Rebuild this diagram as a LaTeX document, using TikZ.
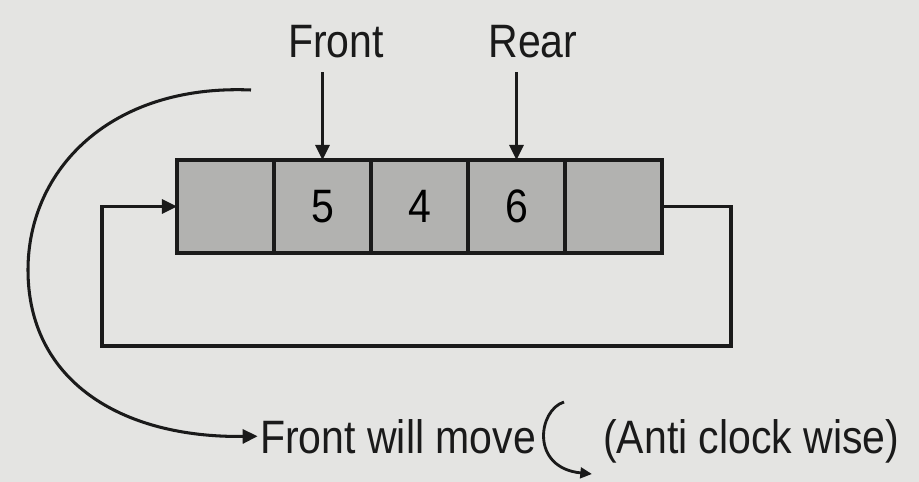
\documentclass[tikz,border=0pt]{standalone}
\usepackage{fontspec}
\setmainfont{Liberation Sans}[FakeStretch=0.875]
\usepackage{tikz}
\usetikzlibrary{
    arrows.meta,
    positioning
}
\definecolor{paper}{HTML}{E4E4E2}
\definecolor{cellgray}{HTML}{B2B2B0}
\definecolor{ink}{HTML}{1A1A1A}

\begin{document}
\begin{tikzpicture}[x=0.03cm,y=-0.03cm,
    cell/.style={draw=ink, fill=cellgray, line width=2.8pt, inner sep=0pt,
        outer sep=0pt, minimum width=2.91cm, minimum height=2.79cm,
        font=\fontsize{40}{44}\selectfont},
    lbl/.style={inner sep=0pt, text=ink, font=\fontsize{40}{44}\selectfont},
    arr/.style={draw=ink, line width=2.6pt,
        -{Triangle[length=0.45cm,width=0.42cm]}}
]

% Paper background
\useasboundingbox (0,0) rectangle (919,482);
\fill[paper] (0,0) rectangle (919,482);

% Queue cells
\node[cell] (c1) at (225.5,206.5) {};
\node[cell, right=0pt of c1] (c2) {5};
\node[cell, right=0pt of c2] (c3) {4};
\node[cell, right=0pt of c3] (c4) {6};
\node[cell, right=0pt of c4] (c5) {};

% Front and rear pointers
\node[lbl, anchor=base] (front) at (336,58) {Front};
\node[lbl, anchor=base] (rear) at (533,58) {Rear};
\draw[arr, shorten <=0.4cm] (front.south -| c2.north) -- (c2.north);
\draw[arr, shorten <=0.4cm] (rear.south -| c4.north) -- (c4.north);

% Wrap-around link from last cell back to first
\coordinate (loopR) at (731,346);
\coordinate (loopL) at (102,206.5);
\draw[arr] (c5.east) -| (loopR) -| (loopL) -- (c1.west);

% Caption with the big turning arrow
\node[lbl, anchor=base west] (move) at (260,453) {Front will move};
\node[lbl, anchor=base west] (dir) at (603,453) {(Anti clock wise)};
\coordinate (arcstart) at (251,90);
\draw[arr] (arcstart) .. controls (110,84) and (28,170) .. (28,270)
    .. controls (28,380) and (120,438) .. ([xshift=-2pt]move.west);

% Small anti clockwise sign
\coordinate (turn) at (564,402);
\coordinate (turnend) at (592,474);
\draw[draw=ink, line width=2.4pt, -{Triangle[length=0.35cm,width=0.32cm]}]
    (turn) .. controls (538,410) and (530,468) .. (turnend);

\end{tikzpicture}
\end{document}
